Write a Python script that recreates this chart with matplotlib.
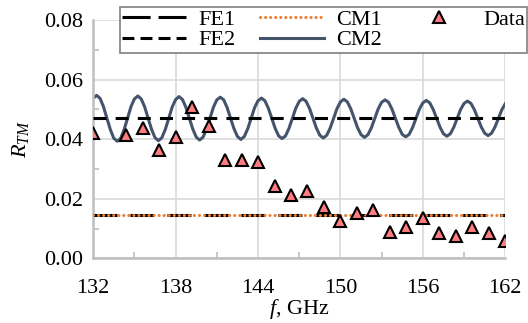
import numpy as np
import matplotlib
matplotlib.use('Agg')
import matplotlib.pyplot as plt
from matplotlib.lines import Line2D
from matplotlib.ticker import MultipleLocator

plt.rcParams['font.family'] = ['Liberation Serif', 'DejaVu Serif']
plt.rcParams['mathtext.fontset'] = 'custom'
plt.rcParams['mathtext.rm'] = 'Liberation Serif'
plt.rcParams['mathtext.it'] = 'Liberation Serif:italic'
plt.rcParams['font.size'] = 16

# measured points (GHz, R_TM)
f_data = [132.0, 134.4, 135.6, 136.8, 138.0, 139.2, 140.4, 141.6, 142.8, 144.0,
          145.2, 146.4, 147.6, 148.8, 150.0, 151.2, 152.4, 153.6, 154.8, 156.0,
          157.2, 158.4, 159.6, 160.8, 162.0]
r_data = [0.0421, 0.0414, 0.0438, 0.0364, 0.0408, 0.0509, 0.0444, 0.0330, 0.0330, 0.0324,
          0.0242, 0.0212, 0.0227, 0.0171, 0.0126, 0.0151, 0.0162, 0.0089, 0.0104, 0.0134,
          0.0086, 0.0076, 0.0104, 0.0084, 0.0058]

# flat model levels
f_span = [132, 162]
fe1 = 0.047
fe2 = 0.0147
cm1 = 0.0147

f_cm2 = np.arange(132, 162.001, 0.25)
r_cm2 = [
    0.0537, 0.0547, 0.0537, 0.0509, 0.0470, 0.0432, 0.0403, 0.0393, 0.0403, 0.0432, 0.0470, 0.0509,
    0.0535, 0.0545, 0.0535, 0.0508, 0.0470, 0.0433, 0.0405, 0.0395, 0.0405, 0.0433, 0.0470, 0.0508,
    0.0533, 0.0543, 0.0533, 0.0507, 0.0470, 0.0434, 0.0407, 0.0397, 0.0407, 0.0434, 0.0470, 0.0507,
    0.0532, 0.0541, 0.0532, 0.0506, 0.0470, 0.0435, 0.0409, 0.0399, 0.0409, 0.0435, 0.0470, 0.0506,
    0.0529, 0.0538, 0.0529, 0.0504, 0.0470, 0.0436, 0.0411, 0.0402, 0.0411, 0.0436, 0.0470, 0.0504,
    0.0527, 0.0536, 0.0527, 0.0503, 0.0470, 0.0437, 0.0413, 0.0404, 0.0413, 0.0437, 0.0470, 0.0503,
    0.0525, 0.0534, 0.0525, 0.0502, 0.0470, 0.0438, 0.0415, 0.0406, 0.0415, 0.0438, 0.0470, 0.0502,
    0.0524, 0.0532, 0.0524, 0.0501, 0.0470, 0.0439, 0.0416, 0.0408, 0.0416, 0.0439, 0.0470, 0.0501,
    0.0522, 0.0530, 0.0522, 0.0500, 0.0470, 0.0440, 0.0418, 0.0410, 0.0418, 0.0440, 0.0470, 0.0500,
    0.0520, 0.0528, 0.0520, 0.0499, 0.0470, 0.0441, 0.0420, 0.0412, 0.0420, 0.0441, 0.0470, 0.0499,
    0.0519]

fig = plt.figure(figsize=(5.28, 3.23), dpi=100)
ax = fig.add_axes([0.1765, 0.2003, 0.7805, 0.7377])

lw = 2.2
orange = '#ED7D31'
slate = '#44546A'
pink = '#FF7C80'

ax.plot(f_span, [fe1, fe1], color='black', lw=lw, dashes=(4.25, 3.0), zorder=3)
ax.plot(f_span, [fe2, fe2], color='black', lw=lw, dashes=(7.85, 4.25), zorder=3)
ax.plot(f_span, [cm1, cm1], color=orange, lw=2.2, dashes=(0.05, 1.6),
        dash_capstyle='round', zorder=4)
ax.plot(f_cm2, r_cm2, color=slate, lw=lw, zorder=2)
ax.plot(f_data, r_data, ls='none', marker='^', ms=9, mfc=pink, mec='black', mew=1.5, zorder=5)

ax.set_xlim(132, 162)
ax.set_ylim(0, 0.08)
ax.xaxis.set_major_locator(MultipleLocator(6))
ax.xaxis.set_minor_locator(MultipleLocator(3))
ax.yaxis.set_major_locator(MultipleLocator(0.02))
ax.yaxis.set_minor_locator(MultipleLocator(0.01))
ax.yaxis.set_major_formatter(plt.FuncFormatter(lambda v, p: '%.2f' % v))

ax.set_axisbelow(True)
ax.grid(True, which='major', color='#d9d9d9', lw=1.2)
for s in ['top', 'right']:
    ax.spines[s].set_visible(False)
for s in ['left', 'bottom']:
    ax.spines[s].set_color('#bfbfbf')
    ax.spines[s].set_linewidth(1.8)
ax.tick_params(which='major', length=0)
ax.tick_params(axis='x', which='major', pad=15)
ax.tick_params(axis='y', which='major', pad=7)
ax.tick_params(which='minor', direction='in', length=4, width=1.2, color='#bfbfbf')

ax.set_xlabel('$f$, GHz', labelpad=-1)
ax.set_ylabel('$R_{TM}$')
ax.yaxis.set_label_coords(-0.152, 0.5)

# legend with its own dash patterns
handles = [
    Line2D([], [], color='black', lw=lw, dashes=(9.2, 2.6)),
    Line2D([], [], color='black', lw=lw, dashes=(3.9, 2.0)),
    Line2D([], [], color=orange, lw=2.2, dashes=(0.05, 1.6), dash_capstyle='round'),
    Line2D([], [], color=slate, lw=lw),
    Line2D([], [], ls='none', marker='^', ms=9, mfc=pink, mec='black', mew=1.5),
]
labels = ['FE1', 'FE2', 'CM1', 'CM2', 'Data']
leg = ax.legend(handles, labels, ncol=3, loc='upper right',
                bbox_to_anchor=(527 / 528, 1 - 7 / 323), bbox_transform=fig.transFigure,
                fancybox=False, edgecolor='#7f7f7f', framealpha=1,
                borderpad=0.1, labelspacing=0.0, handlelength=2.88,
                handletextpad=0.55, columnspacing=1.1, borderaxespad=0)
leg.get_frame().set_linewidth(1.2)

plt.savefig('out.png', dpi=100)
